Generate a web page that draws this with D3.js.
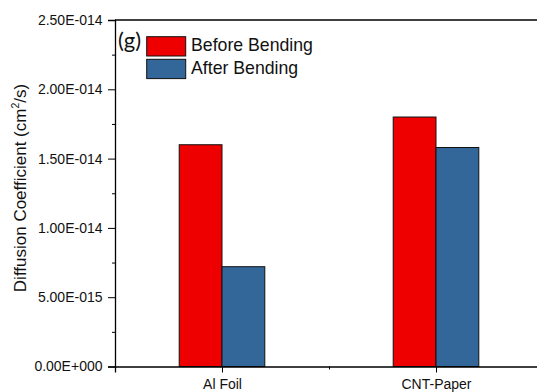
<!DOCTYPE html>
<html><head><meta charset="utf-8">
<script src="https://cdn.jsdelivr.net/npm/d3@7"></script>
<style>body{margin:0;background:#fff}svg{display:block}</style>
</head><body>
<svg id="c" width="537" height="392"></svg>
<script>
const categories = ["Al Foil", "CNT-Paper"];
const seriesNames = ["Before Bending", "After Bending"];
const beforeValues = [1.60e-14, 1.80e-14];
const afterValues = [7.2e-15, 1.58e-14];
const yTicks = [0, 5e-15, 1e-14, 1.5e-14, 2e-14, 2.5e-14];
const yTickLabels = ["0.00E+000", "5.00E-015", "1.00E-014", "1.50E-014", "2.00E-014", "2.50E-014"];
const colors = ["#EE0000", "#336699"];

(function () {
const svg = d3.select("#c");
const mLeft = 115, mTop = 20, mBottom = 366.5;
const x = d3.scaleLinear().domain([0.5, 2.5]).range([115, 543]);
const y = d3.scaleLinear().domain([0, 2.5e-14]).range([mBottom, mTop]);
const barW = 0.2;
const font = "'Liberation Sans', Arial, sans-serif";

const series = [beforeValues, afterValues];
series.forEach((vals, s) => {
  svg.append("g").selectAll("rect").data(vals).join("rect")
    .attr("x", (d, i) => x(i + 1 + (s === 0 ? -barW : 0)))
    .attr("width", x(1 + barW) - x(1))
    .attr("y", d => y(d))
    .attr("height", d => y(0) - y(d))
    .attr("fill", colors[s])
    .attr("stroke", "#111").attr("stroke-width", 1);
});

const yAxis = d3.axisLeft(y).tickValues(yTicks).tickSize(7).tickFormat((d, i) => yTickLabels[i]);
const gy = svg.append("g").attr("transform", `translate(${mLeft},0)`).call(yAxis);
gy.select(".domain").attr("stroke", "#000").attr("stroke-width", 1.3);
gy.selectAll("text").attr("font-family", font).attr("font-size", 14).attr("fill", "#111").attr("x", -12.5);
const yMinor = d3.axisLeft(y).tickValues(yTicks.slice(0, -1).map(v => v + 2.5e-15)).tickSize(3).tickFormat("");
const gym = svg.append("g").attr("transform", `translate(${mLeft},0)`).call(yMinor);
gym.select(".domain").remove();

const xAxis = d3.axisBottom(x).tickValues([1, 2]).tickSize(6).tickFormat((d) => categories[d - 1]);
const gx = svg.append("g").attr("transform", `translate(0,${mBottom})`).call(xAxis);
gx.select(".domain").attr("stroke", "#000").attr("stroke-width", 1.3);
gx.selectAll("text").attr("font-family", font).attr("font-size", 14).attr("fill", "#111").attr("dy", "0.98em");
const xMinor = d3.axisBottom(x).tickValues([1.5]).tickSize(3).tickFormat("");
const gxm = svg.append("g").attr("transform", `translate(0,${mBottom})`).call(xMinor);
gxm.select(".domain").remove();

svg.append("line").attr("x1", mLeft).attr("x2", 537).attr("y1", mTop).attr("y2", mTop)
  .attr("stroke", "#000").attr("stroke-width", 1.3);

svg.append("text").attr("transform", `translate(25.5,188) rotate(-90)`)
  .attr("text-anchor", "middle").attr("font-family", font).attr("font-size", 17).attr("fill", "#111")
  .html("Diffusion Coefficient (cm<tspan font-size='10.5' dy='-7'>2</tspan><tspan dy='7'>/s)</tspan>");

svg.append("text").attr("x", 118).attr("y", 47.5).attr("font-family", "Lato, 'Open Sans', sans-serif")
  .attr("font-size", 22).attr("fill", "#111").text("(g)");

seriesNames.forEach((name, i) => {
  const ly = 36.7 + i * 22.6;
  svg.append("rect").attr("x", 146.7).attr("y", ly).attr("width", 39).attr("height", 19.3)
    .attr("fill", colors[i]).attr("stroke", "#111").attr("stroke-width", 1);
  svg.append("text").attr("x", 191).attr("y", ly + 14.5).attr("font-family", font)
    .attr("font-size", 17.7).attr("fill", "#111").text(name);
});
})();
</script>
</body></html>
